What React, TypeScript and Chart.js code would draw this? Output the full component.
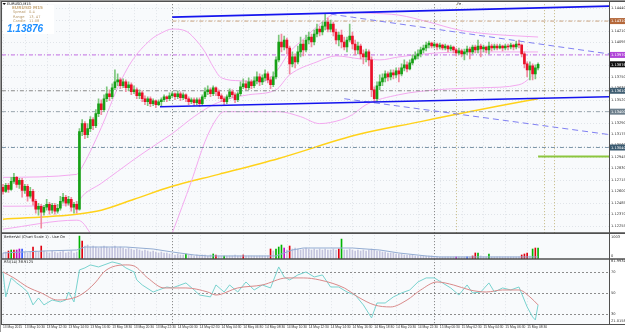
import React, { useEffect, useRef } from "react";
import { Chart, registerables } from "chart.js";
Chart.register(...registerables);

// ---------- tick labels ----------
const timeLabels = [
  "13 May 2015", "13 May 10:30", "13 May 12:30", "13 May 14:30", "13 May 16:30", "13 May 18:30",
  "13 May 20:30", "13 May 22:30", "14 May 00:30", "14 May 02:30", "14 May 04:30", "14 May 06:30",
  "14 May 08:30", "14 May 10:30", "14 May 12:30", "14 May 14:30", "14 May 16:30", "14 May 18:30",
  "14 May 20:30", "14 May 22:30", "15 May 00:30", "15 May 02:30", "15 May 04:30", "15 May 06:30",
  "15 May 08:30",
];
const priceTicks = [
  1.1444, 1.14325, 1.1421, 1.14095, 1.1398, 1.13865, 1.1375, 1.13635, 1.1352, 1.13405,
  1.1329, 1.13175, 1.1306, 1.12945, 1.1283, 1.12715, 1.126, 1.12485, 1.1237, 1.12255,
];
const rsiLevels = [30, 50, 70];

// ---------- candles (EURUSD M15) ----------
const firstOpen = 1.1264;
const closes = [
  1.1260, 1.1266, 1.1262, 1.1270, 1.1274, 1.1267, 1.1271, 1.1261, 1.1265, 1.1255,
  1.1260, 1.1250, 1.1242, 1.1245, 1.1239, 1.1244, 1.1247, 1.1241, 1.1246, 1.1240,
  1.1243, 1.1250, 1.1254, 1.1248, 1.1252, 1.1244, 1.1247, 1.1242, 1.1320, 1.1328,
  1.1317, 1.1323, 1.1332, 1.1326, 1.1338, 1.1348, 1.1342, 1.1353, 1.1358, 1.1355,
  1.1364, 1.1370, 1.1372, 1.1366, 1.1370, 1.1364, 1.1367, 1.1360, 1.1362, 1.1356,
  1.1359, 1.1353, 1.1350, 1.1353, 1.1348, 1.1351, 1.1347, 1.1350, 1.1352, 1.1355,
  1.1353, 1.1356, 1.1358, 1.1355, 1.1358, 1.1354, 1.1357, 1.1353, 1.1350, 1.1352,
  1.1349, 1.1352, 1.1348, 1.1355, 1.1360, 1.1362, 1.1358, 1.1364, 1.1360, 1.1356,
  1.1353, 1.1350, 1.1355, 1.1360, 1.1357, 1.1352, 1.1358, 1.1365, 1.1368, 1.1364,
  1.1370, 1.1366, 1.1371, 1.1375, 1.1370, 1.1374, 1.1378, 1.1372, 1.1367, 1.1375,
  1.1392, 1.1410, 1.1405, 1.1412, 1.1404, 1.1388, 1.1395, 1.1390, 1.1400, 1.1408,
  1.1402, 1.1412, 1.1415, 1.1410, 1.1418, 1.1423, 1.1420, 1.1426, 1.1430, 1.1423,
  1.1428, 1.1420, 1.1412, 1.1417, 1.1410, 1.1405, 1.1412, 1.1416, 1.1408, 1.1402,
  1.1406, 1.1398, 1.1395, 1.1400, 1.1392, 1.1362, 1.1353, 1.1366, 1.1370, 1.1374,
  1.1378, 1.1375, 1.1379, 1.1377, 1.1381, 1.1378, 1.1384, 1.1387, 1.1383, 1.1389,
  1.1393, 1.1396, 1.1398, 1.1402, 1.1404, 1.1407, 1.1409, 1.1406, 1.1408, 1.1405,
  1.1407, 1.1404, 1.1406, 1.1403, 1.1405, 1.1402, 1.1399, 1.1401, 1.1398, 1.1400,
  1.1403, 1.1400, 1.1405, 1.1402, 1.1406, 1.1403, 1.1405, 1.1402, 1.1406, 1.1404,
  1.1406, 1.1404, 1.1406, 1.1404, 1.1406, 1.1405, 1.1407, 1.1405, 1.1408, 1.1407,
  1.1398, 1.1388, 1.1382, 1.1386, 1.1378, 1.1384, 1.13876,
];
const highs = [
  1.1267, 1.1268, 1.1268, 1.1274, 1.1278, 1.1275, 1.1273, 1.1273, 1.1267, 1.1267,
  1.1264, 1.1262, 1.1252, 1.1248, 1.1247, 1.1246, 1.1252, 1.1249, 1.1248, 1.1248,
  1.1247, 1.1255, 1.1258, 1.1256, 1.1255, 1.1254, 1.1249, 1.1250, 1.1323, 1.1332,
  1.1330, 1.1328, 1.1335, 1.1334, 1.1342, 1.1353, 1.1352, 1.1357, 1.1365, 1.1362,
  1.1368, 1.1382, 1.1378, 1.1374, 1.1373, 1.1372, 1.1370, 1.1369, 1.1366, 1.1364,
  1.1362, 1.1361, 1.1356, 1.1355, 1.1355, 1.1353, 1.1352, 1.1352, 1.1354, 1.1357,
  1.1356, 1.1359, 1.1360, 1.1359, 1.1361, 1.1360, 1.1359, 1.1358, 1.1355, 1.1354,
  1.1354, 1.1354, 1.1354, 1.1357, 1.1364, 1.1366, 1.1364, 1.1366, 1.1365, 1.1362,
  1.1358, 1.1355, 1.1357, 1.1363, 1.1362, 1.1359, 1.1360, 1.1370, 1.1373, 1.1371,
  1.1374, 1.1372, 1.1375, 1.1380, 1.1378, 1.1377, 1.1382, 1.1380, 1.1375, 1.1380,
  1.1395, 1.1417, 1.1418, 1.1416, 1.1414, 1.1406, 1.1400, 1.1398, 1.1406, 1.1415,
  1.1412, 1.1417, 1.1420, 1.1418, 1.1422, 1.1428, 1.1426, 1.1430, 1.1438, 1.1434,
  1.1432, 1.1430, 1.1423, 1.1420, 1.1422, 1.1415, 1.1415, 1.1428, 1.1420, 1.1412,
  1.1410, 1.1408, 1.1402, 1.1403, 1.1402, 1.1395, 1.1365, 1.1370, 1.1377, 1.1378,
  1.1381, 1.1380, 1.1382, 1.1382, 1.1384, 1.1384, 1.1388, 1.1392, 1.1390, 1.1392,
  1.1397, 1.1400, 1.1402, 1.1405, 1.1407, 1.1410, 1.1411, 1.1410, 1.1410, 1.1409,
  1.1409, 1.1408, 1.1408, 1.1407, 1.1407, 1.1406, 1.1404, 1.1404, 1.1403, 1.1403,
  1.1406, 1.1405, 1.1407, 1.1407, 1.1412, 1.1408, 1.1407, 1.1406, 1.1410, 1.1408,
  1.1408, 1.1408, 1.1408, 1.1407, 1.1408, 1.1408, 1.1409, 1.1408, 1.1411, 1.1412,
  1.1408, 1.1400, 1.1390, 1.1390, 1.1388, 1.1387, 1.1389,
];
const lows = [
  1.1257, 1.1259, 1.1259, 1.1261, 1.1268, 1.1264, 1.1263, 1.1254, 1.1258, 1.1250,
  1.1253, 1.1246, 1.1238, 1.1236, 1.1223, 1.1236, 1.1241, 1.1237, 1.1238, 1.1237,
  1.1238, 1.1241, 1.1248, 1.1245, 1.1246, 1.1240, 1.1238, 1.1238, 1.1241, 1.1316,
  1.1313, 1.1314, 1.1320, 1.1322, 1.1324, 1.1335, 1.1337, 1.1340, 1.1350, 1.1351,
  1.1353, 1.1362, 1.1366, 1.1363, 1.1364, 1.1360, 1.1361, 1.1357, 1.1358, 1.1353,
  1.1353, 1.1350, 1.1347, 1.1346, 1.1345, 1.1346, 1.1344, 1.1346, 1.1346, 1.1350,
  1.1350, 1.1351, 1.1354, 1.1352, 1.1353, 1.1351, 1.1352, 1.1350, 1.1347, 1.1348,
  1.1346, 1.1347, 1.1345, 1.1346, 1.1353, 1.1357, 1.1355, 1.1356, 1.1356, 1.1353,
  1.1350, 1.1347, 1.1348, 1.1353, 1.1354, 1.1349, 1.1350, 1.1356, 1.1363, 1.1362,
  1.1362, 1.1363, 1.1364, 1.1368, 1.1366, 1.1367, 1.1371, 1.1369, 1.1363, 1.1365,
  1.1373, 1.1390, 1.1400, 1.1402, 1.1398, 1.1378, 1.1385, 1.1384, 1.1388, 1.1395,
  1.1396, 1.1400, 1.1408, 1.1405, 1.1407, 1.1415, 1.1416, 1.1417, 1.1422, 1.1420,
  1.1420, 1.1416, 1.1408, 1.1406, 1.1404, 1.1402, 1.1400, 1.1410, 1.1403, 1.1397,
  1.1398, 1.1393, 1.1388, 1.1390, 1.1386, 1.1355, 1.1349, 1.1350, 1.1362, 1.1366,
  1.1370, 1.1371, 1.1372, 1.1373, 1.1374, 1.1370, 1.1376, 1.1381, 1.1380, 1.1382,
  1.1387, 1.1392, 1.1393, 1.1395, 1.1399, 1.1401, 1.1404, 1.1404, 1.1404, 1.1402,
  1.1403, 1.1402, 1.1402, 1.1400, 1.1401, 1.1399, 1.1396, 1.1397, 1.1395, 1.1392,
  1.1397, 1.1393, 1.1398, 1.1399, 1.1399, 1.1395, 1.1400, 1.1399, 1.1398, 1.1401,
  1.1402, 1.1402, 1.1403, 1.1401, 1.1402, 1.1402, 1.1403, 1.1402, 1.1403, 1.1404,
  1.1395, 1.1384, 1.1375, 1.1372, 1.1372, 1.1373, 1.1382,
];

// ---------- volume (ticks) ----------
const volumes = [
  240, 280, 320, 360, 360, 360, 400, 400, 280, 240,
  280, 480, 320, 280, 520, 320, 280, 240, 320, 280,
  240, 280, 320, 240, 280, 320, 240, 280, 920, 720,
  520, 560, 480, 520, 480, 440, 480, 520, 480, 440,
  480, 520, 440, 480, 440, 400, 440, 400, 360, 400,
  360, 320, 360, 320, 280, 320, 280, 240, 280, 240,
  240, 200, 200, 160, 200, 160, 160, 200, 160, 160,
  120, 160, 120, 160, 160, 120, 160, 200, 160, 120,
  120, 120, 120, 120, 120, 160, 120, 120, 160, 120,
  120, 120, 120, 120, 120, 120, 120, 120, 400, 320,
  400, 480, 560, 440, 360, 520, 400, 440, 400, 360,
  400, 440, 400, 360, 400, 360, 400, 360, 400, 360,
  360, 400, 360, 400, 800, 360, 360, 400, 360, 320,
  360, 320, 360, 320, 360, 400, 360, 320, 320, 280,
  280, 240, 240, 240, 200, 200, 200, 160, 160, 160,
  160, 120, 120, 120, 120, 120, 120, 120, 80, 80,
  80, 80, 80, 80, 80, 80, 80, 80, 80, 80,
  80, 80, 120, 240, 240, 120, 80, 80, 200, 80,
  80, 80, 80, 80, 80, 80, 80, 80, 80, 80,
  160, 200, 240, 120, 400, 440, 440,
];
const volMarks: [number, string][] = [
  [2, "r"], [3, "g"], [4, "r"], [5, "m"], [6, "m"], [7, "b"], [11, "r"], [14, "r"],
  [28, "g"], [29, "r"], [67, "g"], [77, "g"], [78, "r"], [81, "g"], [88, "r"],
  [98, "r"], [100, "g"], [101, "g"], [102, "g"], [103, "m"], [105, "r"], [123, "r"], [124, "g"],
  [166, "m"], [170, "b"], [172, "r"], [173, "r"], [174, "g"], [178, "g"],
  [190, "r"], [191, "r"], [192, "r"], [194, "g"], [195, "r"], [196, "g"],
];
const volAvgIdx = [0, 15, 27, 30, 45, 55, 62, 70, 75, 100, 106, 110, 128, 138, 145, 155, 160, 196];
const volAvg = [240, 320, 360, 480, 480, 400, 280, 160, 120, 120, 360, 440, 440, 360, 240, 120, 80, 80];

// ---------- bands & moving average ----------
const upperIdx = [0, 27, 28, 36, 42, 47, 54, 58, 62, 67, 70, 74, 77, 80, 87, 95, 100, 105, 111, 116, 121, 125, 134, 145, 156, 167, 178, 189, 196];
const upperVal = [1.1274, 1.1277, 1.1280, 1.1324, 1.1364, 1.1390, 1.1412, 1.1419, 1.1423, 1.1421, 1.1414, 1.1400, 1.1385, 1.1374, 1.1371, 1.1370, 1.1380, 1.1400, 1.1415, 1.1428, 1.1438, 1.1440, 1.1439, 1.1437, 1.1430, 1.1422, 1.1418, 1.1416, 1.1415];
const midIdx = [0, 27, 29, 36, 42, 48, 56, 62, 70, 77, 83, 90, 100, 105, 115, 122, 131, 138, 145, 159, 175, 189, 196];
const midVal = [1.1245, 1.1247, 1.1255, 1.1268, 1.1280, 1.1292, 1.1307, 1.1318, 1.1335, 1.1347, 1.1353, 1.1357, 1.1362, 1.1377, 1.1390, 1.1396, 1.1393, 1.1392, 1.1395, 1.1399, 1.1400, 1.1400, 1.1400];
const lowIdx = [0, 27, 29, 32, 47, 62, 69, 74, 78, 81, 101, 109, 116, 124, 128, 133, 145, 159, 175, 189, 193, 196];
const lowVal = [1.1222, 1.1231, 1.1229, 1.1218, null, 1.1218, 1.1270, 1.1310, 1.1332, 1.1340, 1.1340, 1.1335, 1.1328, 1.1332, 1.1337, 1.1347, 1.1357, 1.1362, 1.1364, 1.1367, 1.1374, 1.1385];
const maIdx = [0, 27, 36, 48, 62, 79, 101, 130, 153, 167, 182, 196];
const maVal = [1.1232, 1.1237, 1.1241, 1.1252, 1.1265, 1.1277, 1.1293, 1.1317, 1.1330, 1.1338, 1.1346, 1.1353];

// ---------- trend lines & levels ----------
const trendTop = [[62, 1.1435], [222, 1.1446]];
const trendBottom = [[57.5, 1.1345], [222, 1.1355]];
const dashTop = [[120, 1.1438], [222, 1.1398]];
const dashBottom = [[125, 1.1353], [222, 1.1317]];
const levelPrices = [1.1431, 1.1397, 1.1361, 1.1340, 1.1304];
const levelFrom = [62, -0.4, -0.4, -0.4, -0.4];
const targetLevel = [[196, 1.1295], [222, 1.1295]];
const daySeparators = [62, 158];
const eventMarks = [166, 198, 202];

// ---------- RSI ----------
const rsiIdx = [0, 1, 3, 5, 7, 9, 11, 13, 15, 18, 21, 23, 24, 26, 28, 30, 32, 35, 40, 43, 45, 48, 49, 51, 55, 57, 60, 62, 67, 70, 72, 76, 78, 81, 83, 86, 89, 92, 95, 98, 101, 103, 105, 108, 111, 114, 117, 120, 123, 126, 129, 132, 135, 137, 140, 143, 146, 149, 152, 155, 158, 161, 164, 167, 170, 172, 175, 178, 180, 183, 186, 189, 192, 194, 195, 196];
const rsiVal = [69.8, 46.4, 64.2, 59.5, 55.7, 51.0, 38.9, 45.4, 38.9, 43.5, 41.7, 43.5, 51.0, 41.7, 71.7, 73.6, 76.4, 74.5, 79.2, 77.3, 73.6, 69.8, 62.3, 57.6, 51.0, 52.9, 55.7, 54.8, 59.5, 52.9, 48.2, 46.4, 57.6, 51.0, 57.6, 51.0, 60.4, 52.9, 57.6, 54.8, 74.5, 65.1, 62.3, 67.0, 69.8, 65.1, 67.0, 55.7, 55.7, 51.0, 48.2, 38.9, 26.7, 40.7, 40.7, 46.4, 50.1, 52.9, 60.4, 64.2, 64.2, 59.5, 54.8, 48.2, 57.6, 50.1, 51.0, 59.5, 51.0, 54.8, 52.9, 55.7, 37.0, 27.6, 24.8, 38.9];
const sigIdx = [0, 4, 9, 14, 20, 27, 31, 34, 37, 40, 45, 48, 53, 59, 62, 67, 75, 78, 86, 95, 104, 110, 116, 125, 130, 136, 142, 148, 153, 159, 165, 171, 177, 183, 189, 193, 196];
const sigVal = [69.8, 64.2, 55.7, 50.1, 43.5, 46.4, 52.9, 60.4, 69.8, 74.5, 76.4, 75.4, 64.2, 54.8, 54.8, 54.8, 51.0, 48.2, 54.8, 57.6, 64.2, 64.2, 62.3, 54.8, 46.4, 38.9, 37.0, 43.5, 52.9, 60.4, 57.6, 52.9, 51.0, 52.9, 52.9, 46.4, 38.9];

// ---------- styles ----------
const FONT = "'DejaVu Sans', sans-serif";
const levelColors = ["#c9a27e", "#c56de6", "#8a8a8a", "#9aa5ae", "#7f98aa"];
const boxColors = ["#b5683a", "#b046d8", "#111111", "#3f5e72", "#6d7f8c", "#3a5a70"];
const volColorMap: Record<string, string> = { n: "#c3c3dd", r: "#e00010", g: "#00b400", m: "#c010c8", b: "#2f55ff" };

export default function App() {
  const ref = useRef<HTMLCanvasElement>(null);

  useEffect(() => {
    const canvas = ref.current!;
    const opens = closes.map((c, i) => (i === 0 ? firstOpen : closes[i - 1]));
    const bull = closes.map((c, i) => c >= opens[i]);
    const pts = (idx: number[], vals: (number | null)[]) => idx.map((x, k) => ({ x, y: vals[k] }));
    const pair = (a: number[][]) => a.map((p) => ({ x: p[0], y: p[1] }));
    const markMap: Record<number, string> = {};
    volMarks.forEach(([i, c]) => (markMap[i] = c));

    const lineBase = { type: "line", pointRadius: 0, borderWidth: 1, fill: false, yAxisID: "y" };
    const smooth = { cubicInterpolationMode: "monotone" };

    const datasets: any[] = [
      { ...lineBase, ...smooth, data: pts(upperIdx, upperVal), borderColor: "#f3a9ef", order: 6 },
      { ...lineBase, ...smooth, data: pts(midIdx, midVal), borderColor: "#f3a9ef", order: 6 },
      { ...lineBase, ...smooth, data: pts(lowIdx, lowVal), borderColor: "#f3a9ef", spanGaps: false, order: 6 },
      { ...lineBase, ...smooth, data: pts(maIdx, maVal), borderColor: "#ffd21a", borderWidth: 1.5, order: 6 },
      ...levelPrices.map((p, k) => ({
        ...lineBase,
        data: [{ x: levelFrom[k], y: p }, { x: 222, y: p }],
        borderColor: levelColors[k],
        borderDash: [4, 2, 1, 2],
        order: 5,
      })),
      {
        type: "bar", yAxisID: "y", grouped: false, barThickness: 1, order: 3,
        data: closes.map((c, i) => ({ x: i, y: [lows[i], highs[i]] })),
        backgroundColor: bull.map((b) => (b ? "#7cc67c" : "#f08ca2")),
      },
      {
        type: "bar", yAxisID: "y", grouped: false, barThickness: 2, order: 2,
        data: closes.map((c, i) => ({ x: i, y: [opens[i], c] })),
        backgroundColor: bull.map((b) => (b ? "#16a016" : "#ea1028")),
      },
      { ...lineBase, data: pair(trendTop), borderColor: "#1414ee", borderWidth: 1.6, order: 0 },
      { ...lineBase, data: pair(trendBottom), borderColor: "#1414ee", borderWidth: 1.6, order: 0 },
      { ...lineBase, data: pair(dashTop), borderColor: "#8080f2", borderDash: [6, 4], order: 0 },
      { ...lineBase, data: pair(dashBottom), borderColor: "#8080f2", borderDash: [6, 4], order: 0 },
      { ...lineBase, data: pair(targetLevel), borderColor: "#8cc63e", borderWidth: 2, order: 0 },
      {
        type: "bar", yAxisID: "yv", grouped: false, barThickness: 1, order: 3,
        data: volumes.map((v, i) => ({ x: i, y: v })),
        backgroundColor: volumes.map((v, i) => volColorMap[markMap[i] || "n"]),
      },
      { ...lineBase, yAxisID: "yv", data: pts(volAvgIdx, volAvg), borderColor: "#93acd2", order: 1 },
      { ...lineBase, yAxisID: "yr", data: pts(rsiIdx, rsiVal), borderColor: "#79d3cf", order: 1 },
      { ...lineBase, yAxisID: "yr", ...smooth, data: pts(sigIdx, sigVal), borderColor: "#d98a8a", order: 0 },
    ];

    const hl = (ctx: any, x1: number, x2: number, y: number) => {
      ctx.beginPath(); ctx.moveTo(x1, y); ctx.lineTo(x2, y); ctx.stroke();
    };
    const vl = (ctx: any, x: number, y1: number, y2: number) => {
      ctx.beginPath(); ctx.moveTo(x, y1); ctx.lineTo(x, y2); ctx.stroke();
    };

    const decor = {
      id: "decor",
      beforeDraw(chart: any) {
        const { ctx, chartArea: a } = chart;
        ctx.save();
        ctx.fillStyle = "#ffffff";
        ctx.fillRect(0, 0, chart.width, chart.height);
        ctx.fillStyle = "#f8fafc";
        ctx.fillRect(a.left, a.top, a.right - a.left, a.bottom - a.top);
        ctx.restore();
      },
      beforeDatasetsDraw(chart: any) {
        const { ctx } = chart;
        const { x, y, yr } = chart.scales;
        ctx.save();
        ctx.lineWidth = 1;
        ctx.strokeStyle = "#e0e4e9";
        ctx.setLineDash([1, 2]);
        priceTicks.forEach((v) => hl(ctx, x.left, x.right, Math.round(y.getPixelForValue(v)) + 0.5));
        timeLabels.forEach((_, k) => vl(ctx, Math.round(x.getPixelForValue(k * 8)) + 0.5, y.top, yr.bottom));
        ctx.strokeStyle = "#8c8c8c";
        ctx.setLineDash([2, 2]);
        rsiLevels.forEach((v) => hl(ctx, x.left, x.right, Math.round(yr.getPixelForValue(v)) + 0.5));
        ctx.strokeStyle = "#7a7a7a";
        ctx.setLineDash([1, 2]);
        daySeparators.forEach((i) => vl(ctx, Math.round(x.getPixelForValue(i)) + 0.5, y.top, yr.bottom));
        ctx.strokeStyle = "#c4b880";
        eventMarks.forEach((i) => vl(ctx, Math.round(x.getPixelForValue(i)) + 0.5, y.top, y.bottom));
        ctx.restore();
      },
      afterDraw(chart: any) {
        const { ctx } = chart;
        const { x, y, yv, yr } = chart.scales;
        ctx.save();
        ctx.setLineDash([]);
        // frame and panel separators
        ctx.strokeStyle = "#9a9a9a";
        ctx.lineWidth = 1;
        hl(ctx, 0, 625, 0.5);
        vl(ctx, 0.5, 0, 332);
        ctx.strokeStyle = "#505050";
        hl(ctx, 1, 625, 1.5);
        vl(ctx, 1.5, 1, yr.bottom);
        ctx.lineWidth = 1.6;
        hl(ctx, 1, 625, y.bottom);
        hl(ctx, 1, 625, yv.bottom);
        ctx.lineWidth = 1;
        hl(ctx, 1, 625, yr.bottom + 0.5);
        vl(ctx, x.right + 0.5, 1, yr.bottom);

        // price boxes on the axis
        const boxPrices = [levelPrices[0], levelPrices[1], closes[closes.length - 1], levelPrices[2], levelPrices[3], levelPrices[4]];
        ctx.font = `3.6px ${FONT}`;
        ctx.textBaseline = "middle";
        ctx.textAlign = "left";
        boxPrices.forEach((p, k) => {
          const py = y.getPixelForValue(p);
          ctx.fillStyle = boxColors[k];
          ctx.fillRect(x.right + 1, py - 3, 625 - x.right - 1, 6);
          ctx.fillStyle = "#ffffff";
          ctx.fillText(p.toFixed(5), x.right + 2, py + 0.3);
        });

        // indicator scale labels
        ctx.fillStyle = "#333333";
        ctx.fillText("1003", x.right + 2, yv.top + 3.5);
        ctx.fillText("0", x.right + 2, yv.bottom - 2.5);
        ctx.fillText("81.9934", x.right + 2, yr.top + 2.5);
        ctx.fillText("21.0158", x.right + 2, yr.bottom - 2.5);

        // panel titles
        ctx.fillStyle = "#222222";
        ctx.fillText("BetterVol (Chart Scale 1) - Use On", 4, yv.top + 3.5);
        ctx.fillText("RSI(14) 38.9125", 4, yr.top + 3);
        ctx.fillText("Fe", x.getPixelForValue(eventMarks[0]) + 1, 4.5);

        // info box
        ctx.fillStyle = "#ffffff";
        ctx.fillRect(3, 5, 51, 29);
        ctx.fillStyle = "#111111";
        ctx.beginPath();
        ctx.moveTo(2.5, 3); ctx.lineTo(6, 3); ctx.lineTo(4.25, 5); ctx.closePath(); ctx.fill();
        ctx.fillText("EURUSD,M15", 7, 4);
        ctx.fillStyle = "#c8aa7c";
        ctx.font = `bold 4.2px ${FONT}`;
        ctx.fillText("EURUSD", 12, 8);
        ctx.fillText("M15", 33, 8);
        ctx.font = `3.6px ${FONT}`;
        ctx.fillStyle = "#b99a6c";
        ctx.fillText("Spread", 13, 12.5);
        ctx.fillText("0.4", 29, 12.5);
        ctx.fillText("Range", 13, 17);
        ctx.fillText("13, 47", 29, 17);
        ctx.fillText("Candle", 13, 21.5);
        ctx.fillText("11:08", 29, 21.5);
        ctx.fillStyle = "#1e8fff";
        ctx.font = "italic bold 10px 'Liberation Sans', sans-serif";
        ctx.fillText(closes[closes.length - 1].toFixed(5), 7, 29);
        ctx.restore();
      },
    };

    const tickFont = { size: 3.6, family: FONT };
    const fitY = (s: any) => { s.width = 16; };

    const chart = new Chart(canvas, {
      type: "bar",
      data: { datasets },
      options: {
        animation: false,
        responsive: false,
        layout: { padding: { left: 2, top: 2, right: 0, bottom: 0 } },
        plugins: { legend: { display: false }, tooltip: { enabled: false } },
        scales: {
          x: {
            type: "linear", min: -0.366, max: 221.98, offset: false, position: "bottom",
            grid: { display: false, drawTicks: false }, border: { display: false },
            afterBuildTicks: (s: any) => { s.ticks = timeLabels.map((_, k) => ({ value: k * 8 })); },
            afterFit: (s: any) => { s.height = 8; },
            ticks: {
              autoSkip: false, maxRotation: 0, minRotation: 0, align: "start", padding: 1.5,
              font: { size: 3.3, family: "'Liberation Sans', sans-serif" }, color: "#333333",
              callback: (v: any, i: number) => timeLabels[i] ?? "",
            },
          },
          y: {
            type: "linear", position: "right", stack: "panes", stackWeight: 230.5,
            min: 1.1218, max: 1.1448, beginAtZero: false,
            grid: { display: false, drawTicks: false }, border: { display: false },
            afterBuildTicks: (s: any) => { s.ticks = priceTicks.map((v) => ({ value: v })); },
            afterFit: fitY,
            ticks: { autoSkip: false, padding: 2, font: tickFont, color: "#333333", callback: (v: any) => Number(v).toFixed(5) },
          },
          yv: {
            type: "linear", position: "right", stack: "panes", stackWeight: 26,
            min: 0, max: 1040,
            grid: { display: false, drawTicks: false }, border: { display: false },
            afterFit: fitY,
            ticks: { display: false },
          },
          yr: {
            type: "linear", position: "right", stack: "panes", stackWeight: 65.5,
            min: 21, max: 82,
            grid: { display: false, drawTicks: false }, border: { display: false },
            afterBuildTicks: (s: any) => { s.ticks = rsiLevels.map((v) => ({ value: v })); },
            afterFit: fitY,
            ticks: { autoSkip: false, padding: 2, font: tickFont, color: "#333333", callback: (v: any) => String(v) },
          },
        },
      } as any,
      plugins: [decor],
    } as any);
    return () => chart.destroy();
  }, []);

  return (
    <div style={{ position: "fixed", left: 0, top: 0, width: 625, height: 332, background: "#fff" }}>
      <canvas ref={ref} width={625} height={332} style={{ display: "block", width: 625, height: 332 }} />
    </div>
  );
}
